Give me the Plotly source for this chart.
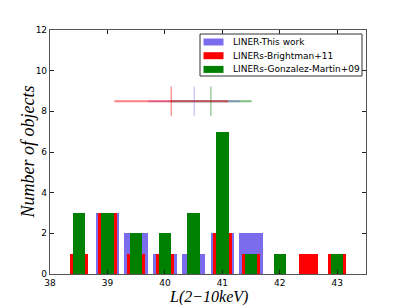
import plotly.graph_objects as go

# Bin centres (log L 2-10 keV)
centers = [38.5, 39.0, 39.5, 40.0, 40.5, 41.0, 41.5, 42.0, 42.5, 43.0]
this_work = [0, 3, 2, 1, 1, 2, 2, 0, 0, 0]
brightman11 = [1, 3, 1, 1, 0, 2, 1, 0, 1, 1]
gonzalez09 = [3, 3, 2, 2, 3, 7, 1, 1, 0, 1]

# Mean and spread markers at top
mean_this, err_this = 40.51, 0.80
mean_bri, err_bri = 40.11, 0.99
mean_gon, err_gon = 40.80, 0.71
marker_y = 8.5

xticks = [38, 39, 40, 41, 42, 43]
yticks = [0, 2, 4, 6, 8, 10, 12]
series_names = ["LINER-This work", "LINERs-Brightman+11", "LINERs-Gonzalez-Martin+09"]

BLUE = "#7b6cee"
RED = "#ff0000"
GREEN = "#008000"
colors = [BLUE, RED, GREEN]

W, H = 407, 305
L, R, T, B = 50, 41, 30, 31
PW, PH = W - L - R, H - T - B


def px2paper(px, py):
    return (px - L) / PW, (H - B - py) / PH


fig = go.Figure()
for vals, wd, name, col in zip([this_work, brightman11, gonzalez09], [0.41, 0.32, 0.215],
                               series_names, colors):
    fig.add_trace(go.Bar(x=centers, y=vals, width=wd, name=name, showlegend=False,
                         marker=dict(color=col, line=dict(width=0))))

for m, e, col in [(mean_gon, err_gon, "rgba(0,128,0,0.5)"),
                  (mean_this, err_this, "rgba(123,104,238,0.45)"),
                  (mean_bri, err_bri, "rgba(255,0,0,0.5)")]:
    fig.add_trace(go.Scatter(
        x=[m], y=[marker_y], mode="markers", showlegend=False, hoverinfo="skip",
        marker=dict(symbol="line-ns-open", size=21, color=col, line=dict(width=1.2, color=col)),
        error_x=dict(type="data", array=[e], symmetric=True, color=col, thickness=2, width=0),
    ))

# Hand-drawn legend (matplotlib style)
shapes = []
annotations = []
x0, y0 = px2paper(200, 34)
x1, y1 = px2paper(362, 76)
shapes.append(dict(type="rect", xref="paper", yref="paper", x0=x0, y0=y0, x1=x1, y1=y1,
                   line=dict(color="#333", width=1), fillcolor="white", layer="above"))
for i, (name, col) in enumerate(zip(series_names, colors)):
    cy = 42.0 + i * 13.7
    px0, py0 = px2paper(203.5, cy - 3.5)
    px1, py1 = px2paper(223.5, cy + 3.5)
    shapes.append(dict(type="rect", xref="paper", yref="paper", x0=px0, y0=py0, x1=px1, y1=py1,
                       line=dict(width=0), fillcolor=col, layer="above"))
    tx, ty = px2paper(231, cy)
    annotations.append(dict(text=name, xref="paper", yref="paper", x=tx, y=ty,
                            xanchor="left", yanchor="middle", showarrow=False,
                            font=dict(family="DejaVu Sans", size=9, color="black")))

annotations.append(dict(text="<i>L(2−10keV)</i>", xref="paper", yref="paper",
                        x=0.5, y=px2paper(0, 296.5)[1],
                        xanchor="center", yanchor="middle", showarrow=False,
                        font=dict(family="Liberation Serif", size=16, color="black")))
annotations.append(dict(text="<i>Number of objects</i>", xref="paper", yref="paper",
                        x=px2paper(27.5, 0)[0], y=0.5,
                        xanchor="center", yanchor="middle", textangle=-90, showarrow=False,
                        font=dict(family="Liberation Serif", size=18, color="black")))

axis_common = dict(
    showgrid=False, zeroline=False, ticks="inside", ticklen=4, tickwidth=1,
    tickcolor="#222", showline=True, linecolor="#555", linewidth=1.2,
    mirror="ticks", tickfont=dict(family="DejaVu Sans", size=9, color="black"),
)

fig.update_layout(
    width=W, height=H,
    margin=dict(l=L, r=R, t=T, b=B),
    paper_bgcolor="white", plot_bgcolor="white",
    barmode="overlay", bargap=0,
    showlegend=False,
    xaxis=dict(range=[38, 43.5], tickvals=xticks, ticktext=[str(t) for t in xticks], **axis_common),
    yaxis=dict(range=[0, 12], tickvals=yticks, ticktext=[str(t) for t in yticks], **axis_common),
    shapes=shapes,
    annotations=annotations,
)

fig.write_html("out.html", config={"displayModeBar": False},
               post_script="document.body.style.margin='0';document.body.style.overflow='hidden';")
